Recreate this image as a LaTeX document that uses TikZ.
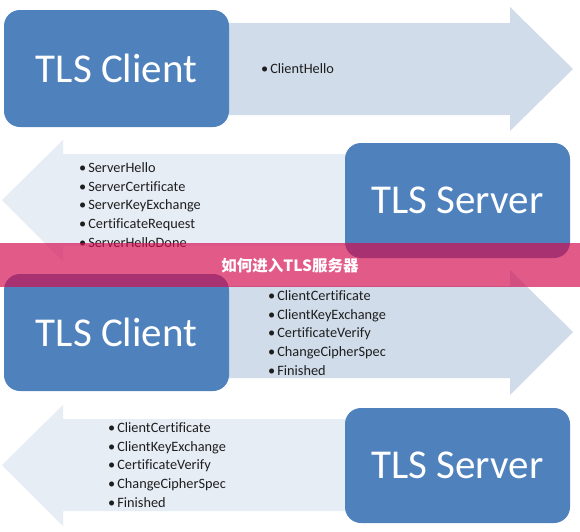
\documentclass[tikz,border=0pt]{standalone}
\usepackage{fontspec}
\setmainfont{Carlito}[Ligatures=NoCommon]
\newfontfamily\cjkfont{Noto Sans CJK SC}
\definecolor{boxblue}{RGB}{79,129,189}
\definecolor{arrowR}{RGB}{208,220,233}
\definecolor{arrowL}{RGB}{231,237,245}
\definecolor{bannerc}{RGB}{212,10,78}
\definecolor{txtgray}{RGB}{30,30,30}
\begin{document}
\begin{tikzpicture}[x=1pt,y=-1pt,
  party/.style={fill=boxblue, rounded corners=16pt, draw=none},
  partytext/.style={text=white, font=\fontsize{41}{41}\selectfont, inner sep=0},
  msglist/.style={align=left, anchor=west, inner sep=0, text=txtgray,
    font=\fontsize{14.3}{18.6}\selectfont},
]
\useasboundingbox (0,0) rectangle (580,531);
\fill[white] (0,0) rectangle (580,531);

% row 1: right arrow
\fill[arrowR] (229,23) -- (510,23) -- (510,7) -- (573,69) -- (510,131) -- (510,115) -- (229,115) -- cycle;
\fill[party] (4,10) rectangle (229,127);
\node[partytext] (c1) at (116.5,68) {TLS Client};
\node[msglist] (m1) at (261,69) {•\hspace{2pt}ClientHello};

% row 2: left arrow
\fill[arrowL] (400,154) -- (63,154) -- (63,140) -- (2,200) -- (63,261) -- (63,246) -- (400,246) -- cycle;
\fill[party] (345,143) rectangle (570,258);
\node[partytext] (s1) at (457.5,200) {TLS Server};
\node[msglist] (m2) at (79,205) {•\hspace{2pt}ServerHello\\ •\hspace{2pt}ServerCertificate\\ •\hspace{2pt}ServerKeyExchange\\ •\hspace{2pt}CertificateRequest\\ •\hspace{2pt}ServerHelloDone};

% row 3: right arrow
\fill[arrowR] (229,286) -- (510,286) -- (510,270) -- (573,332) -- (510,395) -- (510,378) -- (229,378) -- cycle;
\fill[party] (4,274) rectangle (229,391);
\node[partytext] (c2) at (116.5,332) {TLS Client};
\node[msglist] (m3) at (268,333) {•\hspace{2pt}ClientCertificate\\ •\hspace{2pt}ClientKeyExchange\\ •\hspace{2pt}CertificateVerify\\ •\hspace{2pt}ChangeCipherSpec\\ •\hspace{2pt}Finished};

% row 4: left arrow
\fill[arrowL] (400,419) -- (63,419) -- (63,405) -- (2,465) -- (63,526) -- (63,511) -- (400,511) -- cycle;
\fill[party] (345,408) rectangle (570,523);
\node[partytext] (s2) at (457.5,465) {TLS Server};
\node[msglist] (m4) at (108,465) {•\hspace{2pt}ClientCertificate\\ •\hspace{2pt}ClientKeyExchange\\ •\hspace{2pt}CertificateVerify\\ •\hspace{2pt}ChangeCipherSpec\\ •\hspace{2pt}Finished};

% banner
\fill[bannerc, fill opacity=0.67] (0,243) rectangle (580,287);
\node[text=white, inner sep=0, font=\cjkfont\bfseries\fontsize{15.5}{15.5}\selectfont] (title) at (290,266) {如何进入TLS服务器};
\end{tikzpicture}
\end{document}
